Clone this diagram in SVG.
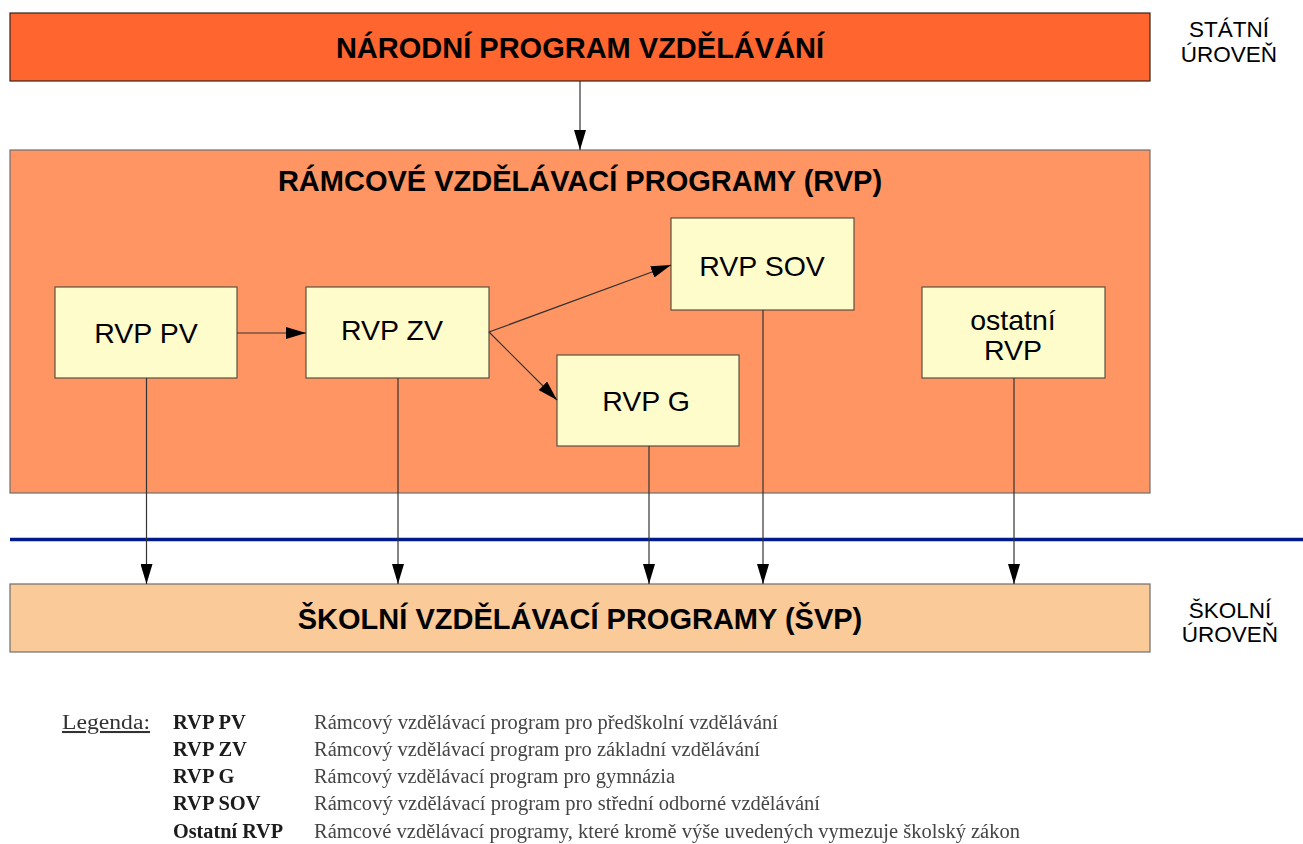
<svg xmlns="http://www.w3.org/2000/svg" width="1303" height="844" viewBox="0 0 1303 844">
  <defs>
    <marker id="arrow" viewBox="0 0 20 12" refX="20" refY="6" markerWidth="20" markerHeight="12" markerUnits="userSpaceOnUse" orient="auto">
      <path d="M0,0 L20,6 L0,12 Z" fill="#000"/>
    </marker>
    <filter id="soft" x="-2%" y="-20%" width="104%" height="140%">
      <feGaussianBlur stdDeviation="0.6"/>
    </filter>
    <style>
      .box { stroke-width: 1.2; }
      .node { fill: #FFFCCC; stroke: #5a5040; stroke-width: 1.2; }
      .title { font-family: "Liberation Sans", Arial, sans-serif; font-weight: bold; font-size: 29px; fill: #000; text-anchor: middle; }
      .label { font-family: "Liberation Sans", Arial, sans-serif; font-size: 28.5px; fill: #000; text-anchor: middle; }
      .level { font-family: "Liberation Sans", Arial, sans-serif; font-size: 22.5px; fill: #000; text-anchor: middle; }
      .conn { stroke: #333; stroke-width: 1.2; fill: none; marker-end: url(#arrow); }
      .lg { font-family: "Liberation Serif", "Times New Roman", serif; font-size: 20.5px; }
      .lgk { font-weight: bold; fill: #1a1a1a; }
      .lgd { fill: #444; font-size: 20px; }
    </style>
  </defs>

  <rect width="1303" height="844" fill="#fff"/>

  <!-- state level -->
  <g id="narodni-program">
    <rect class="box" x="10" y="13" width="1140" height="68" fill="#FF652E" stroke="#3a2418"/>
    <text class="title" x="580" y="58">NÁRODNÍ PROGRAM VZDĚLÁVÁNÍ</text>
  </g>
  <g id="statni-uroven">
    <text class="level" x="1229" y="37">STÁTNÍ</text>
    <text class="level" x="1229" y="62">ÚROVEŇ</text>
  </g>

  <!-- framework programmes container -->
  <g id="rvp">
    <rect class="box" x="10" y="150" width="1140" height="343" fill="#FE9562" stroke="#6e6e6e"/>
    <text class="title" x="580" y="191">RÁMCOVÉ VZDĚLÁVACÍ PROGRAMY (RVP)</text>
  </g>

  <g id="rvp-pv">
    <rect class="node" x="55" y="287" width="182" height="91"/>
    <text class="label" x="146" y="343">RVP PV</text>
  </g>
  <g id="rvp-zv">
    <rect class="node" x="306" y="287" width="183" height="91"/>
    <text class="label" x="392" y="340">RVP ZV</text>
  </g>
  <g id="rvp-sov">
    <rect class="node" x="671" y="218" width="183" height="92"/>
    <text class="label" x="762" y="276">RVP SOV</text>
  </g>
  <g id="rvp-g">
    <rect class="node" x="557" y="355" width="182" height="91"/>
    <text class="label" x="646" y="411">RVP G</text>
  </g>
  <g id="ostatni-rvp">
    <rect class="node" x="922" y="287" width="183" height="91"/>
    <text class="label" x="1013" y="330">ostatní</text>
    <text class="label" x="1013" y="360">RVP</text>
  </g>

  <!-- boundary between state and school level -->
  <line id="hranice" x1="10" y1="539.5" x2="1303" y2="539.5" stroke="#001A8C" stroke-width="3.5"/>

  <!-- school level -->
  <g id="svp">
    <rect class="box" x="10" y="584" width="1140" height="68" fill="#FBCA99" stroke="#6e6e6e"/>
    <text class="title" x="580" y="629">ŠKOLNÍ VZDĚLÁVACÍ PROGRAMY (ŠVP)</text>
  </g>
  <g id="skolni-uroven">
    <text class="level" x="1230" y="618">ŠKOLNÍ</text>
    <text class="level" x="1230" y="642">ÚROVEŇ</text>
  </g>

  <!-- connectors -->
  <g id="connectors">
    <line class="conn" x1="580" y1="81" x2="580" y2="150"/>
    <line class="conn" x1="237" y1="333" x2="306" y2="333"/>
    <line class="conn" x1="489" y1="332" x2="671" y2="265"/>
    <line class="conn" x1="489" y1="332" x2="557" y2="400"/>
    <line class="conn" x1="146.5" y1="378" x2="146.5" y2="584"/>
    <line class="conn" x1="398" y1="378" x2="398" y2="584"/>
    <line class="conn" x1="649" y1="446" x2="649" y2="584"/>
    <line class="conn" x1="763" y1="310" x2="763" y2="584"/>
    <line class="conn" x1="1014" y1="378" x2="1014" y2="584"/>
  </g>

  <!-- legend -->
  <g id="legenda" class="lg" filter="url(#soft)">
    <text x="62" y="729" fill="#333" text-decoration="underline" textLength="88" lengthAdjust="spacingAndGlyphs">Legenda:</text>
    <text class="lgk" x="173" y="729">RVP PV</text>
    <text class="lgk" x="173" y="756">RVP ZV</text>
    <text class="lgk" x="173" y="783">RVP G</text>
    <text class="lgk" x="173" y="810">RVP SOV</text>
    <text class="lgk" x="173" y="838" textLength="110" lengthAdjust="spacingAndGlyphs">Ostatní RVP</text>
    <text class="lgd" x="314" y="729" textLength="464" lengthAdjust="spacingAndGlyphs">Rámcový vzdělávací program pro předškolní vzdělávání</text>
    <text class="lgd" x="314" y="756" textLength="446" lengthAdjust="spacingAndGlyphs">Rámcový vzdělávací program pro základní vzdělávání</text>
    <text class="lgd" x="314" y="783" textLength="361" lengthAdjust="spacingAndGlyphs">Rámcový vzdělávací program pro gymnázia</text>
    <text class="lgd" x="314" y="810" textLength="506" lengthAdjust="spacingAndGlyphs">Rámcový vzdělávací program pro střední odborné vzdělávání</text>
    <text class="lgd" x="314" y="838" textLength="706" lengthAdjust="spacingAndGlyphs">Rámcové vzdělávací programy, které kromě výše uvedených vymezuje školský zákon</text>
  </g>
</svg>
